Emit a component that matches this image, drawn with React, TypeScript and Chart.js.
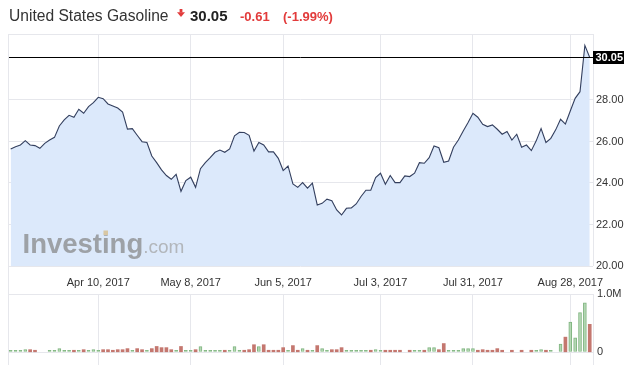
import React, { useEffect, useRef } from 'react';
import { Chart, registerables } from 'chart.js';
Chart.register(...registerables);

// ---------- data ----------
const TITLE = 'United States Gasoline';
const LAST_PRICE = 30.05;
const CHANGE = '-0.61';
const CHANGE_PCT = '(-1.99%)';

const START_DATE = '2017-03-15';
const HOLIDAYS = ['2017-04-14', '2017-05-29', '2017-07-04'];
const TICK_DATES = ['2017-04-10', '2017-05-08', '2017-06-05', '2017-07-03', '2017-07-31', '2017-08-28'];
const PRICE_TICKS = [20, 22, 24, 26, 28];
const VOLUME_TICKS = [0, 1];

const PRICES = [
  25.64, 25.75, 25.83, 26.04, 25.83, 25.80, 25.67, 25.91, 26.07, 26.20,
  26.75, 27.04, 27.26, 27.17, 27.55, 27.36, 27.68, 27.87, 28.13, 28.06,
  27.81, 27.71, 27.61, 27.42, 26.60, 26.62, 26.30, 25.99, 25.95, 25.30,
  24.98, 24.63, 24.36, 24.18, 24.42, 23.60, 24.12, 24.28, 23.79, 24.69,
  24.98, 25.22, 25.48, 25.59, 25.48, 25.64, 26.27, 26.44, 26.43, 26.30,
  25.54, 25.95, 25.83, 25.50, 25.50, 25.19, 24.60, 24.82, 23.96, 23.79,
  24.02, 23.75, 23.99, 22.94, 23.02, 23.22, 23.15, 22.70, 22.46, 22.78,
  22.80, 22.99, 23.35, 23.65, 23.65, 24.26, 24.47, 23.94, 24.36, 24.02,
  24.02, 24.34, 24.31, 24.47, 24.98, 24.95, 25.22, 25.78, 25.70, 25.00,
  25.06, 25.72, 26.07, 26.51, 26.91, 27.36, 27.17, 26.83, 26.72, 26.80,
  26.59, 26.35, 26.48, 26.07, 26.35, 25.72, 25.83, 25.56, 26.03, 26.62,
  25.95, 26.15, 26.56, 27.07, 26.84, 27.47, 28.08, 28.40, 30.63, 30.05,
];

// volume in millions (null = no bar)
const VOLUMES = [
  0.035, 0.035, 0.035, 0.045, 0.045, 0.035, null, null, 0.035, 0.035,
  0.063, 0.035, 0.035, 0.035, 0.035, 0.045, 0.035, 0.045, 0.035, 0.045,
  0.045, 0.035, 0.045, 0.045, 0.063, 0.035, 0.063, 0.045, 0.035, 0.063,
  0.1, 0.08, 0.08, 0.045, 0.035, 0.1, 0.035, 0.035, 0.045, 0.1,
  0.035, 0.035, 0.035, 0.035, 0.035, 0.035, 0.1, 0.035, 0.035, 0.045,
  0.13, 0.1, 0.13, 0.035, 0.035, 0.035, 0.08, 0.035, 0.115, 0.035,
  0.063, 0.035, 0.035, 0.115, 0.063, 0.035, 0.045, 0.045, 0.08, 0.035,
  0.035, 0.035, 0.035, 0.035, 0.035, 0.045, 0.035, 0.035, 0.035, 0.035,
  0.035, null, 0.035, 0.035, 0.035, 0.035, 0.08, 0.08, 0.045, 0.15,
  0.035, 0.035, 0.035, 0.063, 0.063, 0.063, 0.035, 0.045, 0.035, 0.035,
  0.063, 0.035, null, 0.035, null, 0.035, null, 0.035, 0.035, 0.045,
  0.035, 0.035, null, 0.14, 0.26, 0.52, 0.25, 0.68, 0.85, 0.48,
];

// 1 = up (green), 0 = down (red)
const VOLUME_UP = [
  1, 1, 1, 1, 0, 0, 0, 0, 1, 1,
  1, 1, 1, 0, 1, 0, 1, 1, 1, 0,
  0, 0, 0, 0, 0, 1, 0, 0, 1, 0,
  0, 0, 0, 0, 1, 0, 1, 1, 0, 1,
  1, 1, 1, 1, 0, 1, 1, 1, 0, 0,
  0, 1, 0, 0, 0, 0, 0, 1, 0, 0,
  1, 0, 1, 0, 1, 1, 0, 0, 0, 1,
  1, 1, 1, 1, 0, 1, 1, 0, 0, 0,
  0, 0, 0, 1, 1, 0, 1, 1, 0, 0,
  1, 1, 1, 1, 1, 1, 0, 0, 0, 0,
  0, 0, 0, 0, 0, 0, 0, 0, 1, 1,
  0, 1, 0, 1, 0, 1, 1, 1, 1, 0,
];

// ---------- helpers ----------
const FONT = '"Liberation Sans", Arial, Helvetica, sans-serif';
const GRID = '#e6e7ec';
const MONTHS = ['Jan', 'Feb', 'Mar', 'Apr', 'May', 'Jun', 'Jul', 'Aug', 'Sep', 'Oct', 'Nov', 'Dec'];

function buildDates(n: number): string[] {
  const out: string[] = [];
  const d = new Date(START_DATE + 'T00:00:00Z');
  while (out.length < n) {
    const iso = d.toISOString().slice(0, 10);
    const wd = d.getUTCDay();
    if (wd !== 0 && wd !== 6 && !HOLIDAYS.includes(iso)) out.push(iso);
    d.setUTCDate(d.getUTCDate() + 1);
  }
  return out;
}
const DATES = buildDates(PRICES.length);
const TICK_INDEX = TICK_DATES.map((t) => DATES.indexOf(t));
function fmtDate(iso: string) {
  const [y, m, d] = iso.split('-').map(Number);
  return `${MONTHS[m - 1]} ${d}, ${y}`;
}
const X_MIN = -0.55;
const X_MAX = PRICES.length - 1 + 0.67;

const framePlugin = {
  id: 'frame',
  beforeDatasetsDraw(chart: any) {
    const { ctx, chartArea: a } = chart;
    ctx.save();
    ctx.strokeStyle = GRID;
    ctx.lineWidth = 1;
    ctx.beginPath();
    ctx.moveTo(a.left, a.top + 0.5);
    ctx.lineTo(a.right + 1, a.top + 0.5);
    ctx.moveTo(a.right + 0.5, a.top);
    ctx.lineTo(a.right + 0.5, a.bottom);
    ctx.stroke();
    ctx.restore();
  },
};

const watermarkPlugin = {
  id: 'watermark',
  afterDatasetsDraw(chart: any) {
    const { ctx, chartArea: a } = chart;
    ctx.save();
    const x = a.left + 14.5;
    const y = a.bottom - 13.5;
    ctx.textBaseline = 'alphabetic';
    ctx.textAlign = 'left';
    ctx.font = `bold 27.5px ${FONT}`;
    ctx.fillStyle = '#9da1a6';
    ctx.fillText('Investing', x, y);
    const w = ctx.measureText('Investing').width;
    const wi = ctx.measureText('Invest').width;
    ctx.fillStyle = '#d8c7a4';
    ctx.fillRect(x + wi + 1.5, y - 22, 4.5, 4.5);
    ctx.font = `19px ${FONT}`;
    ctx.fillStyle = '#b2b6bb';
    ctx.fillText('.com', x + w, y);
    ctx.restore();
  },
};

const lastPricePlugin = {
  id: 'lastPrice',
  afterDatasetsDraw(chart: any) {
    const { ctx, chartArea: a, scales } = chart;
    const y = Math.round(scales.y.getPixelForValue(LAST_PRICE));
    ctx.save();
    ctx.strokeStyle = '#000';
    ctx.lineWidth = 1;
    ctx.beginPath();
    ctx.moveTo(a.left, y + 0.5);
    ctx.lineTo(a.right, y + 0.5);
    ctx.stroke();
    ctx.fillStyle = '#000';
    ctx.fillRect(a.right, y - 6, 31, 13);
    ctx.fillStyle = '#fff';
    ctx.font = `bold 11px ${FONT}`;
    ctx.textBaseline = 'middle';
    ctx.textAlign = 'left';
    ctx.fillText(LAST_PRICE.toFixed(2), a.right + 2.5, y + 1);
    ctx.restore();
  },
};

const noScalePadding = (s: any) => {
  s.paddingTop = 0;
  s.paddingBottom = 0;
  s.paddingLeft = 0;
  s.paddingRight = 0;
};

export default function App() {
  const priceRef = useRef<HTMLCanvasElement>(null);
  const volRef = useRef<HTMLCanvasElement>(null);

  useEffect(() => {
    Chart.defaults.font.family = FONT;
    const tickFont = { family: FONT, size: 11 };

    const price = new Chart(priceRef.current as HTMLCanvasElement, {
      type: 'line',
      data: {
        datasets: [
          {
            data: PRICES.map((p, i) => ({ x: i, y: p })),
            borderColor: '#333f5e',
            borderWidth: 1.1,
            backgroundColor: '#dce9fb',
            fill: 'start',
            pointRadius: 0,
            tension: 0,
          },
        ],
      },
      options: {
        animation: false,
        responsive: false,
        maintainAspectRatio: false,
        layout: { padding: { left: 8, top: 34, right: 0, bottom: 0 } },
        plugins: { legend: { display: false }, tooltip: { enabled: false } },
        scales: {
          x: {
            type: 'linear',
            min: X_MIN,
            max: X_MAX,
            offset: false,
            grid: { color: GRID, drawTicks: false, offset: false },
            border: { display: false },
            afterBuildTicks: (s: any) => {
              s.ticks = TICK_INDEX.map((v) => ({ value: v }));
            },
            afterFit: (s: any) => {
              noScalePadding(s);
              s.height = 24;
            },
            ticks: {
              autoSkip: false,
              maxRotation: 0,
              padding: 10,
              color: '#333',
              font: tickFont,
              callback: (v: any) => fmtDate(DATES[v]),
            },
          },
          y: {
            position: 'right',
            min: 20,
            max: 31.18,
            grid: { color: GRID, drawTicks: false },
            border: { display: false },
            afterBuildTicks: (s: any) => {
              s.ticks = PRICE_TICKS.map((v) => ({ value: v }));
            },
            afterFit: (s: any) => {
              noScalePadding(s);
              s.width = 39;
            },
            ticks: {
              padding: 3,
              color: '#333',
              font: tickFont,
              callback: (v: any) => Number(v).toFixed(2),
            },
          },
        },
      } as any,
      plugins: [framePlugin, watermarkPlugin, lastPricePlugin],
    });

    const vol = new Chart(volRef.current as HTMLCanvasElement, {
      type: 'bar',
      data: {
        datasets: [
          {
            data: VOLUMES.map((v, i) => ({ x: i, y: v })),
            backgroundColor: VOLUME_UP.map((u) => (u ? '#b4d8b4' : '#c4776f')),
            borderColor: VOLUME_UP.map((u) => (u ? '#7fb47f' : '#c4776f')),
            borderWidth: VOLUME_UP.map((u) => (u ? 1 : 0)),
            barThickness: 3,
          },
        ],
      },
      options: {
        animation: false,
        responsive: false,
        maintainAspectRatio: false,
        layout: { padding: { left: 8, top: 8, right: 0, bottom: 0 } },
        plugins: { legend: { display: false }, tooltip: { enabled: false } },
        scales: {
          x: {
            type: 'linear',
            min: X_MIN,
            max: X_MAX,
            offset: false,
            grid: { color: GRID, drawTicks: false, offset: false },
            border: { display: false },
            afterBuildTicks: (s: any) => {
              s.ticks = TICK_INDEX.map((v) => ({ value: v }));
            },
            afterFit: (s: any) => {
              noScalePadding(s);
              s.height = 3;
            },
            ticks: { display: false },
          },
          y: {
            position: 'right',
            min: -0.218,
            max: 1,
            grid: { color: GRID, drawTicks: false },
            border: { display: false },
            afterBuildTicks: (s: any) => {
              s.ticks = VOLUME_TICKS.map((v) => ({ value: v }));
            },
            afterFit: (s: any) => {
              noScalePadding(s);
              s.width = 39;
            },
            ticks: {
              padding: 4,
              color: '#333',
              font: tickFont,
              callback: (v: any) => (Number(v) === 0 ? '0' : Number(v).toFixed(1) + 'M'),
            },
          },
        },
      } as any,
      plugins: [framePlugin],
    });

    return () => {
      price.destroy();
      vol.destroy();
    };
  }, []);

  const red = '#e23b3b';
  return (
    <div
      style={{
        position: 'fixed',
        left: 0,
        top: 0,
        width: 632,
        height: 368,
        background: '#fff',
        overflow: 'hidden',
        fontFamily: FONT,
      }}
    >
      <canvas ref={priceRef} width={632} height={290} style={{ position: 'absolute', left: 0, top: 0 }} />
      <canvas ref={volRef} width={632} height={82} style={{ position: 'absolute', left: 0, top: 286 }} />
      <div style={{ position: 'absolute', left: 8, top: 34, width: 1, height: 331, background: GRID }} />
      <span style={{ position: 'absolute', left: 9, top: 8, fontSize: 15.6, lineHeight: '15px', color: '#333', whiteSpace: 'nowrap' }}>
        {TITLE}
      </span>
      <svg style={{ position: 'absolute', left: 177, top: 9 }} width={8} height={9} viewBox="0 0 8 9">
        <rect x={2.6} y={0} width={2.8} height={3.5} fill={red} />
        <polygon points="0,3.2 8,3.2 4,8" fill={red} />
      </svg>
      <span style={{ position: 'absolute', left: 190, top: 8, fontSize: 15, lineHeight: '15px', fontWeight: 'bold', color: '#222', whiteSpace: 'nowrap' }}>
        {LAST_PRICE.toFixed(2)}
      </span>
      <span style={{ position: 'absolute', left: 240, top: 10, fontSize: 13, lineHeight: '13px', fontWeight: 'bold', color: red, whiteSpace: 'nowrap' }}>
        {CHANGE}
      </span>
      <span style={{ position: 'absolute', left: 283, top: 10, fontSize: 13, lineHeight: '13px', fontWeight: 'bold', color: red, whiteSpace: 'nowrap' }}>
        {CHANGE_PCT}
      </span>
    </div>
  );
}
